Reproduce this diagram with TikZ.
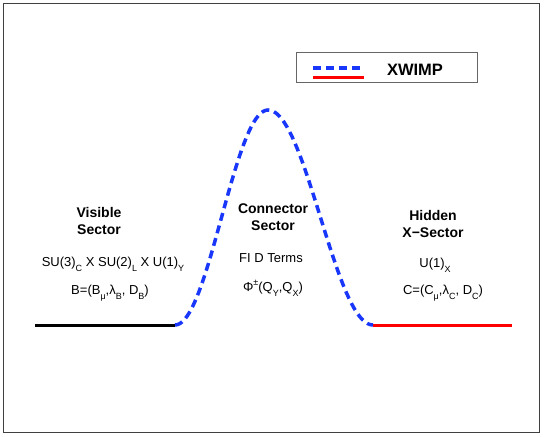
\documentclass[tikz,border=0pt]{standalone}
\usepackage{fontspec}
\setmainfont{Liberation Sans}
\usetikzlibrary{positioning}
\definecolor{wimpblue}{RGB}{25,55,250}
\newcommand{\lowsub}[1]{\raisebox{-0.4em}{\fontsize{9}{9}\selectfont #1}}
\newcommand{\highsup}[1]{\raisebox{0.45em}{\fontsize{9}{9}\selectfont #1}}
\tikzstyle{sector} = [font=\fontsize{14}{16.5}\selectfont\bfseries, align=center, anchor=base, inner sep=0pt]
\tikzstyle{content} = [font=\fontsize{13}{15}\selectfont, anchor=base, inner sep=0pt]
\tikzstyle{wimp} = [wimpblue, line width=3.5pt, dash pattern=on 8pt off 5pt]
\tikzstyle{visible} = [black, line width=3pt]
\tikzstyle{hidden} = [red, line width=3pt]
\tikzstyle{frame} = [draw=black!75, line width=1pt]

\begin{document}
\begin{tikzpicture}[x=1pt, y=-1pt]
        \useasboundingbox (0,0) rectangle (545,436);
        \draw [frame] (3.5,3.5) rectangle (539,432);

        % legend
        \draw [frame, draw=black!60] (296,52) rectangle (477,82);
        \coordinate (legA) at (313,68);
        \coordinate (legB) at (364,68);
        \coordinate (legC) at (313,77);
        \coordinate (legD) at (364,77);
        \draw [wimp] (legA) -- (legB);
        \draw [hidden] (legC) -- (legD);
        \node (legtext) [font=\fontsize{16.5}{16.5}\selectfont\bfseries] at (415,70) {XWIMP};

        % the three sectors
        \coordinate (visA) at (35,325);
        \coordinate (visB) at (175,325);
        \coordinate (hidA) at (373,325);
        \coordinate (hidB) at (512,325);
        \draw [visible] (visA) -- (visB);
        \draw [hidden] (hidA) -- (hidB);
        \draw [wimp] plot[domain=-1:0, samples=40, variable=\t] ({268+93*\t}, {325-107.5*(1+cos(180*\t))})
                  -- plot[domain=0:1, samples=40, variable=\t] ({268+105*\t}, {325-107.5*(1+cos(180*\t))});

        \node (visible) [sector] at (99,234) {Visible\\Sector};
        \node (visgauge) [content] at (113,266) {SU(3)\lowsub{C} X SU(2)\lowsub{L} X U(1)\lowsub{Y}};
        \node (visfield) [content] at (110,294) {B=(B\lowsub{μ},λ\lowsub{B}, D\lowsub{B})};

        \node (connector) [sector] at (273,230) {Connector\\Sector};
        \node (conterms) [content] at (271,262) {FI D Terms};
        \node (confield) [content] at (273,291) {Φ\highsup{±}(Q\lowsub{Y},Q\lowsub{X})};

        \node (hidden) [sector] at (433,237) {Hidden\\X−Sector};
        \node (hidgauge) [content] at (435,267) {U(1)\lowsub{X}};
        \node (hidfield) [content] at (443,294) {C=(C\lowsub{μ},λ\lowsub{C}, D\lowsub{C})};
        \end{tikzpicture}
\end{document}
